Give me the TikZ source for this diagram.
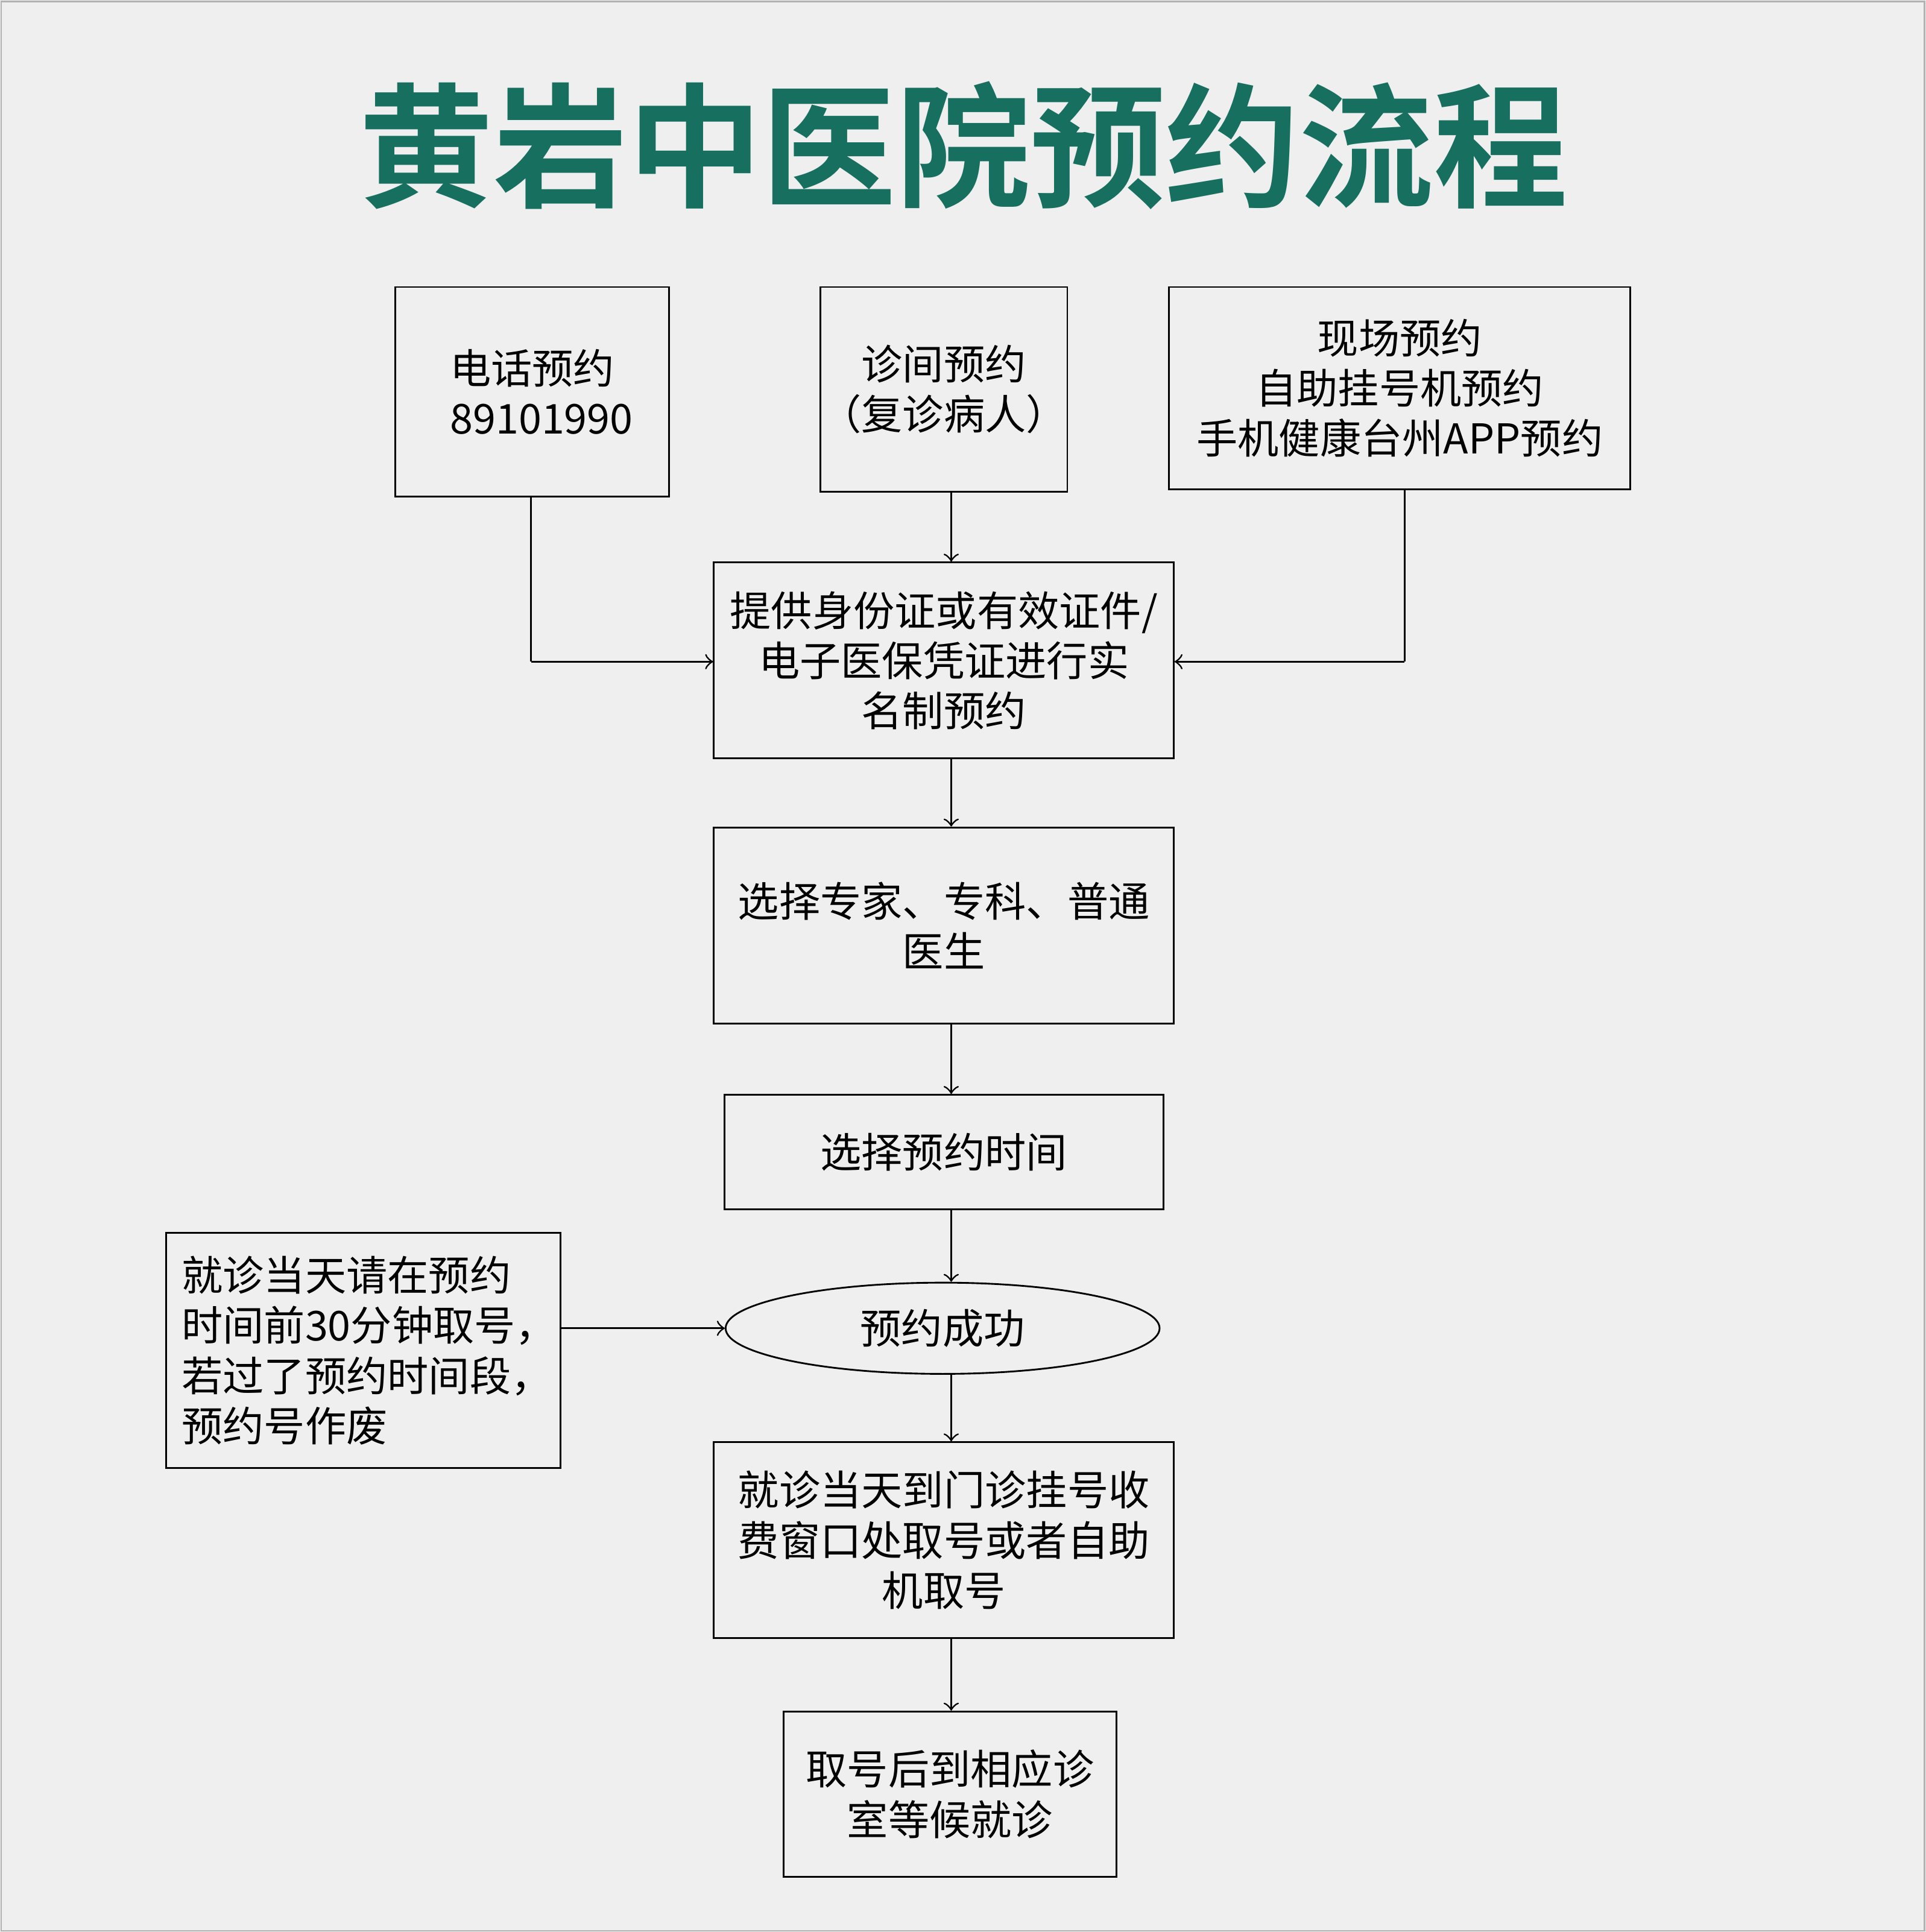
\documentclass[tikz,border=0pt]{standalone}
\usepackage{fontspec}
\setmainfont{Noto Sans CJK SC}
\newfontfamily\titlefont[BoldFont=* Bold]{Noto Sans CJK SC}
\usepackage{tikz}
\usetikzlibrary{arrows,calc,positioning,shapes.geometric}
\definecolor{titlegreen}{HTML}{17705F}
\definecolor{bggray}{HTML}{EFEFEF}

\begin{document}
\begin{tikzpicture}
[
	              x = 0.01cm,
	              y = -0.01cm,
	           >= to,
	    step box/.style = { draw=black, thin, align=center, font=\fontsize{9.5}{11.6}\selectfont, inner sep=0pt },
	    flow/.style = { ->, thin }
]
	% background
	\fill [bggray] (0,0) rectangle (1563,1568);
	\draw [gray!60] (1,1) rectangle (1562,1567);
	\useasboundingbox (0,0) rectangle (1563,1568);

	% title
	\node (title) at (782,118) [text=titlegreen, font=\titlefont\bfseries\fontsize{31}{36}\selectfont] {黄岩中医院预约流程};

	% top row
	\node (phone)  at (432,318)  [step box, minimum width=2.22cm, minimum height=1.70cm] {电话预约\\ \ \ 89101990};
	\node (clinic) at (766,316)  [step box, minimum width=1.97cm, minimum height=1.66cm] {诊间预约\\（复诊病人）};
	\node (site)   at (1136,315) [step box, minimum width=3.74cm, minimum height=1.64cm] {现场预约\\自助挂号机预约\\手机健康台州APP预约};

	% main column
	\node (real)   at (766,536)  [step box, minimum width=3.73cm, minimum height=1.59cm] {提供身份证或有效证件/\\电子医保凭证进行实\\名制预约};
	\node (doctor) at (766,751)  [step box, minimum width=3.73cm, minimum height=1.59cm] {选择专家、专科、普通\\医生};
	\node (time)   at (766,935)  [step box, minimum width=3.56cm, minimum height=0.93cm] {选择预约时间};
	\node (done)   at (765,1078) [step box, ellipse, minimum width=3.52cm, minimum height=0.74cm] {预约成功};
	\node (fetch)  at (766,1250) [step box, minimum width=3.73cm, minimum height=1.59cm] {就诊当天到门诊挂号收\\费窗口处取号或者自助\\机取号};
	\node (room)   at (771,1456) [step box, minimum width=2.70cm, minimum height=1.34cm] {取号后到相应诊\\室等候就诊};

	% note
	\node (note)   at (295,1096) [step box, align=left, minimum width=3.20cm, minimum height=1.91cm, text width=2.95cm] {就诊当天请在预约\\时间前30分钟取号，\\若过了预约时间段，\\预约号作废};

	% connectors
	\coordinate (axis) at (772,0);
	\coordinate (pc) at (431,537);
	\coordinate (sc) at (1140,537);
	\draw [thin] (phone.south -| pc) -- (pc);
	\draw [flow] (pc) -- (real.west |- pc);
	\draw [thin] (site.south -| sc) -- (sc);
	\draw [flow] (sc) -- (real.east |- sc);
	\draw [flow] (clinic.south -| axis) -- (real.north -| axis);
	\draw [flow] (real.south -| axis) -- (doctor.north -| axis);
	\draw [flow] (doctor.south -| axis) -- (time.north -| axis);
	\draw [flow] (time.south -| axis) -- (done.north -| axis);
	\draw [flow] (done.south -| axis) -- (fetch.north -| axis);
	\draw [flow] (fetch.south -| axis) -- (room.north -| axis);
	\draw [flow] (note.east |- done) -- (done.west);
\end{tikzpicture}
\end{document}
